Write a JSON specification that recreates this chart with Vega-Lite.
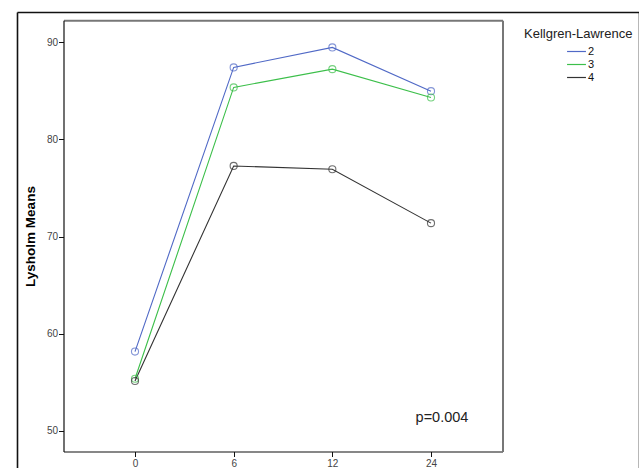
{
  "$schema": "https://vega.github.io/schema/vega-lite/v6.json",
  "autosize": "none",
  "padding": {"left": 17, "top": 12, "right": 0, "bottom": 0},
  "width": 622,
  "height": 470,
  "background": "white",
  "config": {
    "font": "Liberation Sans",
    "view": {"stroke": null}
  },
  "data": {
    "values": [
      {"time": "0", "kl": "2", "mean": 58.15},
      {"time": "6", "kl": "2", "mean": 87.42},
      {"time": "12", "kl": "2", "mean": 89.48},
      {"time": "24", "kl": "2", "mean": 84.97},
      {"time": "0", "kl": "3", "mean": 55.35},
      {"time": "6", "kl": "3", "mean": 85.36},
      {"time": "12", "kl": "3", "mean": 87.24},
      {"time": "24", "kl": "3", "mean": 84.32},
      {"time": "0", "kl": "4", "mean": 55.12},
      {"time": "6", "kl": "4", "mean": 77.27},
      {"time": "12", "kl": "4", "mean": 76.93},
      {"time": "24", "kl": "4", "mean": 71.38}
    ]
  },
  "resolve": {
    "scale": {"x": "independent", "y": "independent"},
    "axis": {"x": "independent", "y": "independent"}
  },
  "layer": [
    {
      "data": {"values": [{"a": 0}]},
      "mark": {"type": "point", "opacity": 0},
      "encoding": {
        "x": {"datum": 0, "type": "quantitative", "scale": {"domain": [0, 1], "range": [0, 622]},
              "axis": {"orient": "top", "offset": 0, "title": null, "labels": false, "ticks": false, "grid": false,
                       "domainColor": "#111", "domainWidth": 1.6}},
        "y": {"datum": 0, "type": "quantitative", "scale": {"domain": [0, 1], "range": [470, 0]},
              "axis": {"orient": "left", "offset": 0, "title": null, "labels": false, "ticks": false, "grid": false,
                       "domainColor": "#111", "domainWidth": 1.6}}
      }
    },
    {
      "data": {"values": [{"a": 0}]},
      "mark": {"type": "point", "opacity": 0},
      "encoding": {
        "x": {"datum": 0, "type": "quantitative", "scale": {"domain": [0, 1], "range": [0, 622]}, "axis": null},
        "y": {"datum": 0, "type": "quantitative", "scale": {"domain": [0, 1], "range": [470, 0]},
              "axis": {"orient": "right", "offset": 0, "title": null, "labels": false, "ticks": false, "grid": false,
                       "domainColor": "#111", "domainWidth": 1.6}}
      }
    },
    {
      "mark": {"type": "line", "strokeWidth": 1.1},
      "encoding": {
        "x": {
          "field": "time", "type": "ordinal", "sort": ["0", "6", "12", "24"],
          "scale": {"type": "point", "domain": ["0", "6", "12", "24"], "range": [46.5, 485.5], "padding": 0.7247},
          "axis": {
            "orient": "bottom", "offset": -30.5, "title": null, "labelAngle": 0,
            "domainColor": "#111", "domainWidth": 1.2, "tickColor": "#111", "tickSize": 5,
            "labelFontSize": 10, "labelColor": "#444", "labelPadding": 2, "grid": false
          }
        },
        "y": {
          "field": "mean", "type": "quantitative",
          "scale": {"domain": [47.86, 92.27], "range": [439.5, 8.3], "nice": false, "zero": false},
          "axis": {
            "orient": "left", "offset": -46.5, "values": [50, 60, 70, 80, 90],
            "title": "Lysholm Means", "titleFontSize": 13.5, "titleFontWeight": "bold", "titleColor": "#000",
            "titleX": -33, "titleY": 224, "titleBaseline": "middle", "titleAngle": -90, "titleAlign": "center",
            "domainColor": "#111", "domainWidth": 1.2, "tickColor": "#111", "tickSize": 5,
            "labelFontSize": 10, "labelColor": "#444", "labelPadding": 1, "grid": false
          }
        },
        "color": {
          "field": "kl", "type": "nominal",
          "scale": {"domain": ["2", "3", "4"], "range": ["#5069c6", "#3cbf4a", "#333333"]},
          "legend": {
            "orient": "none", "legendX": 507, "legendY": 16,
            "title": "Kellgren-Lawrence", "titleFontSize": 13, "titleFontWeight": "normal", "titleColor": "#222",
            "titlePadding": 3,
            "symbolType": "M-1.4,0H1.4", "symbolSize": 182, "symbolStrokeWidth": 1.2, "symbolOffset": 45,
            "labelFontSize": 11, "labelColor": "#111", "labelOffset": 4, "rowPadding": 0
          }
        }
      }
    },
    {
      "mark": {"type": "point", "filled": false, "size": 50, "strokeWidth": 1.1},
      "encoding": {
        "x": {
          "field": "time", "type": "ordinal", "sort": ["0", "6", "12", "24"],
          "scale": {"type": "point", "domain": ["0", "6", "12", "24"], "range": [46.5, 485.5], "padding": 0.7247},
          "axis": {"orient": "top", "offset": -8.3, "title": null, "labels": false, "ticks": false,
                   "domainColor": "#777", "domainWidth": 2, "grid": false}
        },
        "y": {
          "field": "mean", "type": "quantitative",
          "scale": {"domain": [47.86, 92.27], "range": [439.5, 8.3], "nice": false, "zero": false},
          "axis": {"orient": "right", "offset": -136.5, "title": null, "labels": false, "ticks": false,
                   "domainColor": "#777", "domainWidth": 2, "grid": false}
        },
        "color": {"field": "kl", "type": "nominal", "legend": null}
      }
    },
    {
      "data": {"values": [{"label": "p=0.004"}]},
      "mark": {"type": "text", "fontSize": 14.5, "color": "#222", "align": "center", "baseline": "middle", "dx": 11},
      "encoding": {
        "text": {"field": "label"},
        "x": {"datum": "24", "type": "ordinal",
              "scale": {"type": "point", "domain": ["0", "6", "12", "24"], "range": [46.5, 485.5], "padding": 0.7247},
              "axis": null},
        "y": {"datum": 51.3, "type": "quantitative",
              "scale": {"domain": [47.86, 92.27], "range": [439.5, 8.3], "nice": false, "zero": false},
              "axis": null}
      }
    }
  ]
}
